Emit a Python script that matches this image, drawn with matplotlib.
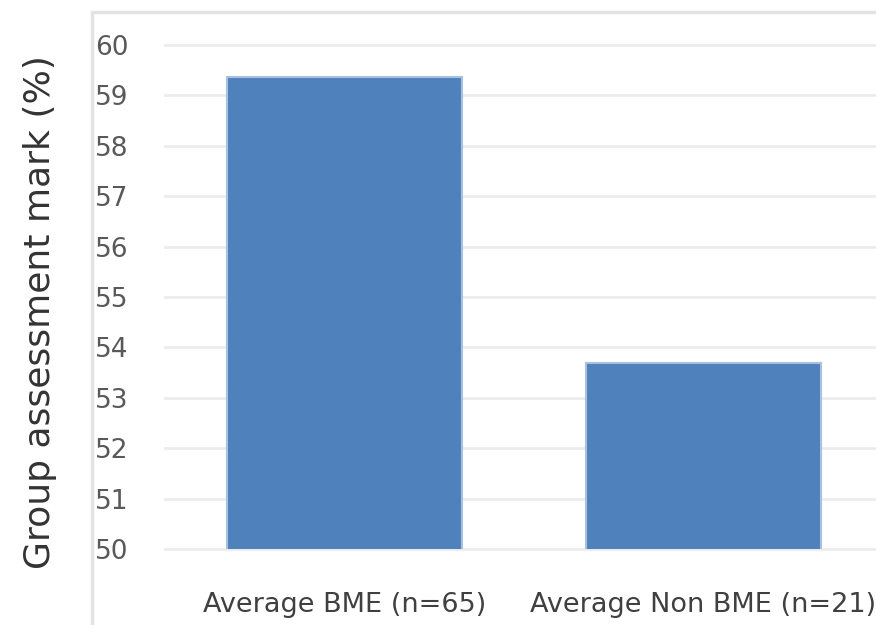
import matplotlib
matplotlib.use("Agg")
import matplotlib.pyplot as plt
from matplotlib.patches import Rectangle

# Average group assessment marks
groups = ["Average BME (n=65)", "Average Non BME (n=21)"]
marks = [59.37, 53.69]
yticks = list(range(50, 61))

plt.rcParams['font.family'] = ['DejaVu Sans']

fig = plt.figure(figsize=(8.76, 6.25), dpi=100)
W, H = 876, 625

# outer chart frame (runs off the right and bottom edges)
fig.patches.append(Rectangle((92 / W, -0.1), 1.0, (H - 12) / H + 0.1,
                             transform=fig.transFigure, fill=False,
                             edgecolor='#e3e3e3', linewidth=2.5))

ax = fig.add_axes([165 / W, 1 - 549 / H, (883 - 165) / W, (549 - 45) / H])
x = range(len(groups))
ax.bar(x, marks, width=0.655, bottom=0, color='#4f81bd',
       edgecolor='#a9c0df', linewidth=1.5, zorder=3)
ax.set_xlim(-0.5, 1.5)
ax.set_ylim(50, 60)
ax.set_yticks(yticks)
ax.set_xticks(list(x))
ax.set_xticklabels(groups, fontsize=19.5, color='#404040')
ax.tick_params(axis='y', labelsize=19, labelcolor='#595959', length=0, pad=26)
ax.tick_params(axis='x', length=0, pad=31)
ax.grid(axis='y', color='#ececec', linewidth=2, zorder=0)
for gl in ax.get_ygridlines():
    gl.set_clip_on(False)
for s in ax.spines.values():
    s.set_visible(False)

fig.text(40 / W, 1 - 312 / H, "Group assessment mark (%)", rotation=90,
         ha='center', va='center', fontsize=26, color='#333333')

fig.savefig("out.png", dpi=100)
